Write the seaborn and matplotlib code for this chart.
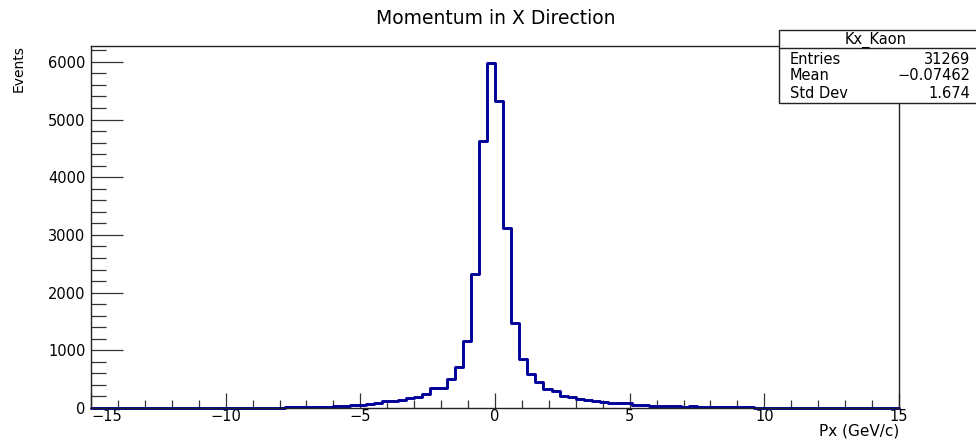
import numpy as np
import pandas as pd
import matplotlib
matplotlib.use("Agg")
import matplotlib.pyplot as plt
from matplotlib.ticker import MultipleLocator
import seaborn as sns

# ---- data ----
x_min, x_max, n_bins = -15.0, 15.0, 100  # 100 bins of 0.3 GeV/c
counts = [
    0, 0, 0, 0, 0, 0, 0, 0, 0, 0,
    0, 0, 0, 0, 0, 0, 0, 0, 0, 1,
    2, 3, 8, 5, 12, 14, 15, 18, 20, 22,
    28, 35, 45, 60, 68, 80, 115, 125, 140, 172,
    196, 237, 350, 355, 510, 710, 1160, 2320, 4630, 5975,
    5325, 3120, 1480, 845, 585, 445, 335, 300, 215, 195,
    160, 140, 120, 105, 95, 90, 80, 60, 45, 40,
    35, 35, 30, 25, 30, 15, 12, 20, 10, 10,
    12, 15, 8, 5, 4, 3, 2, 2, 1, 1,
    1, 0, 0, 0, 0, 0, 0, 0, 0, 0,
]
xtick_vals = [-15, -10, -5, 0, 5, 10, 15]
xtick_labels = ["\u221215", "\u221210", "\u22125", "0", "5", "10", "15"]
ytick_vals = [0, 1000, 2000, 3000, 4000, 5000, 6000]
ytick_labels = ["0", "1000", "2000", "3000", "4000", "5000", "6000"]

bin_edges = np.linspace(x_min, x_max, n_bins + 1)
centers = 0.5 * (bin_edges[:-1] + bin_edges[1:])
df = pd.DataFrame({"px": centers, "n": counts})

title = "Momentum in X Direction"
xlabel = "Px (GeV/c)"
ylabel = "Events"
stats_name = "Kx_Kaon"
stats_rows = [("Entries", "31269"), ("Mean", "\u22120.07462"), ("Std Dev", "1.674")]

# ---- plot ----
sns.set_theme(style="white")
plt.rcParams["font.family"] = ["DejaVu Sans"]
plt.rcParams["text.color"] = "black"
plt.rcParams["xtick.color"] = "black"
plt.rcParams["ytick.color"] = "black"

fig = plt.figure(figsize=(9.76, 4.41), dpi=100)
ax = fig.add_axes([91 / 976, 1 - 408 / 441, (899 - 91) / 976, (408 - 46) / 441])

sns.histplot(data=df, x="px", weights="n", binwidth=(x_max - x_min) / n_bins,
             binrange=(x_min, x_max), element="step", fill=False,
             color="#000099", linewidth=2.1, ax=ax)
for ln in ax.lines:
    ln.set_clip_on(False)

ax.set_xlim(x_min, x_max)
ax.set_ylim(0, 6275)
ax.set_xticks(xtick_vals)
ax.set_xticklabels(xtick_labels)
ax.set_yticks(ytick_vals)
ax.set_yticklabels(ytick_labels)
ax.xaxis.set_minor_locator(MultipleLocator(1))
ax.yaxis.set_minor_locator(MultipleLocator(200))
ax.tick_params(axis="y", which="major", direction="in", length=23, width=0.9, color="#333333",
               labelsize=10.5, labelcolor="black", pad=4, left=True)
ax.tick_params(axis="y", which="minor", direction="in", length=11, width=0.9, color="#333333", left=True)
ax.tick_params(axis="x", which="major", direction="in", length=11, width=0.9, color="#333333",
               labelsize=10.5, labelcolor="black", pad=1, bottom=True)
ax.tick_params(axis="x", which="minor", direction="in", length=6, width=0.9, color="#333333", bottom=True)
ax.get_xticklabels()[0].set_horizontalalignment("left")
for sp in ax.spines.values():
    sp.set_visible(True)
    sp.set_color("#222222")
    sp.set_linewidth(1.0)

ax.set_xlabel("")
ax.set_ylabel("")
fig.text(899 / 976, 1 - 431 / 441, xlabel, ha="right", va="center", fontsize=11)
fig.text(19 / 976, 1 - 45 / 441, ylabel, ha="center", va="top", rotation=90, fontsize=10)
fig.text(496 / 976, 1 - 18 / 441, title, ha="center", va="center", fontsize=13.5)

# stats box
bx0, bx1 = 779 / 976, 1.005
by_top, by_bot = 1 - 30 / 441, 1 - 102.5 / 441
box = plt.Rectangle((bx0, by_bot), bx1 - bx0, by_top - by_bot, transform=fig.transFigure,
                    facecolor="white", edgecolor="#222222", linewidth=1.0, zorder=5,
                    clip_on=False)
fig.add_artist(box)
hl = 1 - 47.5 / 441
fig.add_artist(plt.Line2D([bx0, 1.0], [hl, hl], transform=fig.transFigure,
                          color="#222222", linewidth=1.0, zorder=6))
fig.text(876 / 976, 1 - 39.5 / 441, stats_name, ha="center", va="center",
         fontsize=10.5, zorder=7)
row_y = [59, 76, 93]
for (k, v), yy in zip(stats_rows, row_y):
    fig.text(790 / 976, 1 - yy / 441, k, ha="left", va="center", fontsize=10.5, zorder=7)
    fig.text(970 / 976, 1 - yy / 441, v, ha="right", va="center", fontsize=10.5, zorder=7)

fig.savefig("out.png", dpi=100)
